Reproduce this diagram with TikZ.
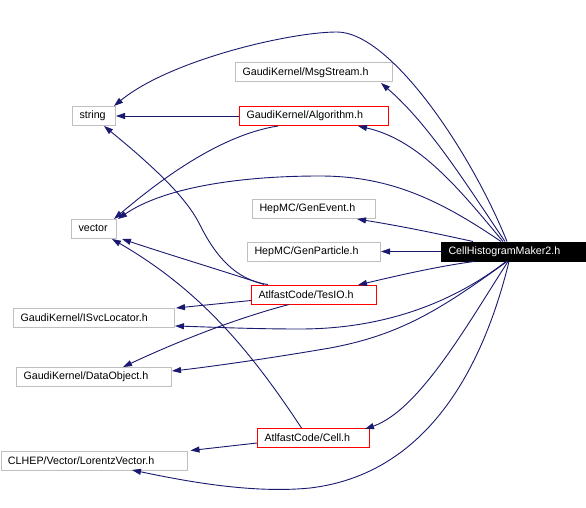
\documentclass[tikz,border=0pt]{standalone}
\usepackage{fontspec}
\setmainfont{Liberation Sans}
\usetikzlibrary{arrows.meta,calc}
\definecolor{edgec}{HTML}{191970}
\definecolor{boxgray}{HTML}{BFBFBF}
\tikzset{
  box/.style={draw=boxgray, line width=1pt, minimum height=19pt, inner ysep=0pt, inner xsep=7pt, anchor=west, align=left, font=\fontsize{10.7}{12}\selectfont, text=black},
  redbox/.style={box, draw=red},
  blackbox/.style={box, draw=black, fill=black, text=white},
  dep/.style={draw=edgec, line width=0.9pt, -{Triangle[length=9pt,width=6pt]}}
}
\begin{document}
\begin{tikzpicture}[x=1pt,y=-1pt]
\useasboundingbox[fill=white] (0,0) rectangle (586,508);
\node[box, text width=29pt] (string) at (72,116) {string};
\node[box, text width=143pt] (msg) at (235,72.5) {GaudiKernel/MsgStream.h};
\node[redbox, text width=135pt] (alg) at (239,116) {GaudiKernel/Algorithm.h};
\node[box, text width=31pt] (vector) at (71,228.5) {vector};
\node[box, text width=109pt] (genevent) at (252,208.5) {HepMC/GenEvent.h};
\node[box, text width=119pt] (genparticle) at (247,251.5) {HepMC/GenParticle.h};
\node[blackbox, text width=131pt] (chm) at (441,251.5) {CellHistogramMaker2.h};
\node[redbox, text width=111pt] (tesio) at (251,294.5) {AtlfastCode/TesIO.h};
\node[box, text width=147pt] (isvc) at (13,318) {GaudiKernel/ISvcLocator.h};
\node[box, text width=141pt] (dataobj) at (16,376.5) {GaudiKernel/DataObject.h};
\node[redbox, text width=98pt] (cell) at (257,438) {AtlfastCode/Cell.h};
\node[box, text width=172pt] (lorentz) at (0.5,460.5) {CLHEP/Vector/LorentzVector.h};

% from CellHistogramMaker2.h
\draw[dep] ([xshift=-7pt]chm.north) .. controls (470,150) and (390,32) .. (337,32) .. controls (290,32) and (170,60) .. (114,106);
\draw[dep] ([xshift=-9pt]chm.north) .. controls (470,190) and (430,125) .. (381,83);
\draw[dep] ([xshift=-11pt]chm.north) .. controls (460,190) and (420,140) .. (358,126);
\draw[dep] ([xshift=-13pt]chm.north) .. controls (440,200) and (390,176) .. (320,176) .. controls (230,176) and (160,190) .. (118,219);
\draw[dep] ([xshift=-41pt]chm.north) .. controls (430,232) and (400,226) .. (357,219);
\draw[dep] (chm.west) -- (genparticle.east);
\draw[dep] ([xshift=-40pt]chm.south) .. controls (440,266) and (400,275) .. (358,285);
\draw[dep] ([xshift=-8pt]chm.south) .. controls (450,305) and (380,329) .. (300,329) .. controls (250,329) and (210,327) .. (175,326);
\draw[dep] ([xshift=-7pt]chm.south) .. controls (440,310) and (400,335) .. (330,348) .. controls (260,360) and (200,368) .. (172,371);
\draw[dep] ([xshift=-6pt]chm.south) .. controls (470,320) and (420,410) .. (365,429);
\draw[dep] ([xshift=-5pt]chm.south) .. controls (480,380) and (420,475) .. (310,488) .. controls (250,494) and (180,480) .. (132,470);

% from GaudiKernel/Algorithm.h
\draw[dep] (alg.west) -- (string.east);
\draw[dep] ([xshift=-36pt]alg.south) .. controls (220,135) and (160,180) .. (114,219);

% from AtlfastCode/TesIO.h
\draw[dep] ([xshift=-46pt]tesio.north) .. controls (235,280) and (215,255) .. (200,225) .. controls (190,205) and (170,180) .. (104,126);
\draw[dep] ([xshift=-50pt]tesio.north) .. controls (220,270) and (170,255) .. (122,239);
\draw[dep] ([yshift=-6pt]tesio.west) -- ([xshift=1pt]isvc.north east);
\draw[dep] ([xshift=-25pt]tesio.south) .. controls (230,320) and (170,345) .. (123,367);

% from AtlfastCode/Cell.h
\draw[dep] ([xshift=-12pt]cell.north) .. controls (250,350) and (200,290) .. (112,239);
\draw[dep] ([yshift=-5pt]cell.west) -- ([xshift=3pt]lorentz.north east);
\end{tikzpicture}
\end{document}
